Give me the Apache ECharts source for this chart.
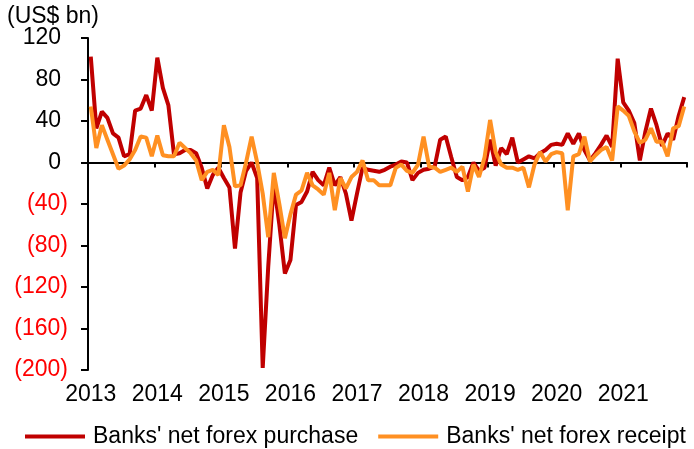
<!DOCTYPE html>
<html><head><meta charset="utf-8">
<script src="https://cdn.jsdelivr.net/npm/echarts@6/dist/echarts.min.js"></script>
<style>html,body{margin:0;padding:0;background:#fff}#c{width:694px;height:449px}</style>
</head><body><div id="c"></div>
<script>
const years = ['2013','2014','2015','2016','2017','2018','2019','2020','2021'];
const monthNames = ['01','02','03','04','05','06','07','08','09','10','11','12'];
const categories = [];
years.forEach(y => monthNames.forEach(m => categories.push(y + '-' + m)));

const purchase = [
 102,33,49,43,28,24,6,8,50,52,65,50,
 101,72,55,8,9,12,12,9,-5,-25,-12,-5,
 -15,-24,-83,-29,-8,0,-15,-198,-100,-20,-60,-107,
 -94,-41,-38,-28,-9,-17,-22,-5,-22,-14,-30,-56,
 -30,-5,-7,-8,-9,-7,-4,-2,1,0,-17,-10,
 -7,-6,-4,22,25,5,-14,-17,-14,0,-8,-5,
 22,-3,14,8,24,0,3,6,4,9,12,17,
 18,17,28,18,28,12,2,9,17,26,15,100,
 58,50,38,2,30,52,36,16,28,22,45,63
];
const receipt = [
 54,14,36,22,8,-6,-3,3,12,25,24,6,
 26,7,6,6,19,14,9,2,-17,-9,-7,-12,
 36,15,-23,-22,0,25,0,-30,-72,-10,-40,-73,
 -50,-31,-27,-10,-22,-26,-31,-10,-46,-15,-25,-14,
 -9,2,-17,-17,-22,-22,-22,-5,-2,-8,-10,-2,
 25,-4,-5,-9,-7,-5,-9,-4,-28,-2,-14,5,
 41,10,-2,-5,-5,-7,-5,-24,-2,10,1,8,
 10,9,-46,6,8,25,1,7,12,15,2,54,
 50,45,30,19,22,33,20,20,6,33,35,54
];
const seriesNames = ["Banks' net forex purchase", "Banks' net forex receipt"];
const yMin = -200, yMax = 120, yStep = 40;

const FONT = 'Liberation Sans';
const FS = 23;
const chart = echarts.init(document.getElementById('c'), null, {renderer: 'canvas'});
chart.setOption({
  animation: false,
  backgroundColor: '#fff',
  title: {
    text: '(US$ bn)', left: 2, top: 0,
    textStyle: {fontFamily: FONT, fontSize: FS, fontWeight: 'normal', color: '#000'}
  },
  grid: {left: 88, right: 7, top: 38, bottom: 79},
  legend: {
    left: 20, top: 420,
    itemWidth: 60, itemHeight: 4, itemGap: 20, icon: 'rect',
    textStyle: {fontFamily: FONT, fontSize: FS, color: '#000', padding: [0, 0, 0, 3]},
    data: seriesNames
  },
  xAxis: [{
    type: 'category', data: categories, boundaryGap: true, position: 'bottom',
    axisLine: {show: true, onZero: true, lineStyle: {color: '#000', width: 2}},
    axisTick: {show: true, interval: 11, length: 5, lineStyle: {color: '#000', width: 2}},
    axisLabel: {show: false},
    splitLine: {show: false}
  }, {
    type: 'category', data: categories, boundaryGap: true, position: 'bottom',
    axisLine: {show: false, onZero: false},
    axisTick: {show: false},
    axisLabel: {show: true, interval: 11, margin: 13, fontFamily: FONT, fontSize: FS, color: '#000',
      formatter: v => v.slice(0, 4)},
    splitLine: {show: false}
  }],
  yAxis: {
    type: 'value', min: yMin, max: yMax, interval: yStep,
    axisLine: {show: true, onZero: false, lineStyle: {color: '#000', width: 2}},
    axisTick: {show: true, length: 7, lineStyle: {color: '#000', width: 2}},
    splitLine: {show: false},
    axisLabel: {
      margin: 20, fontFamily: FONT, fontSize: FS,
      formatter: v => v < 0 ? '{n|(' + (-v) + ')}' : '{p|' + v + '}',
      rich: {
        n: {color: '#FF0000', fontFamily: FONT, fontSize: FS},
        p: {color: '#000', fontFamily: FONT, fontSize: FS, padding: [0, 7, 0, 0]}
      }
    }
  },
  series: [{
    name: seriesNames[0], type: 'line', data: purchase, xAxisIndex: 0,
    symbol: 'none', showSymbol: false, smooth: false,
    lineStyle: {color: '#C00000', width: 4}, itemStyle: {color: '#C00000'}
  }, {
    name: seriesNames[1], type: 'line', data: receipt, xAxisIndex: 0,
    symbol: 'none', showSymbol: false, smooth: false,
    lineStyle: {color: '#FF9022', width: 4}, itemStyle: {color: '#FF9022'}
  }]
});
</script>
</body></html>
